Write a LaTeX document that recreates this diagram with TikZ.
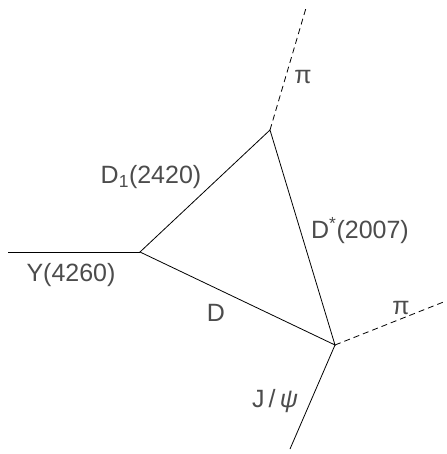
\documentclass[tikz,border=0pt]{standalone}
\usepackage{fontspec}
\setmainfont{Liberation Sans}
\begin{document}
\begin{tikzpicture}[x=1pt,y=-1pt,
  prop/.style={line width=0.8pt,black},
  pion/.style={line width=0.8pt,black,dash pattern=on 6pt off 4pt},
  lbl/.style={text=black!70,font=\fontsize{25}{29}\selectfont,inner sep=0pt}]
\useasboundingbox (0,0) rectangle (446,454);
\coordinate (A) at (140,252);
\coordinate (B) at (270,130);
\coordinate (C) at (335,345);
\coordinate (Yin) at (8,252);
\coordinate (P1) at (306,8);
\coordinate (P2) at (446,301);
\coordinate (J) at (290,449);
\draw[prop] (Yin) -- (A);
\draw[prop] (A) -- (B) -- (C) -- cycle;
\draw[pion] (B) -- (P1);
\draw[pion] (C) -- (P2);
\draw[prop] (C) -- (J);
\node[lbl] (l1) at (151,177) {D\textsubscript{1}(2420)};
\node[lbl] (l2) at (360,231) {D\textsuperscript{*}(2007)};
\node[lbl] (l3) at (71,275) {Y(4260)};
\node[lbl] (l4) at (216,313) {D};
\node[lbl] (l5) at (275,401) {J\,/\,\textit{ψ}};
\node[lbl] (l6) at (303,77) {π};
\node[lbl] (l7) at (401,308) {π};
\end{tikzpicture}
\end{document}
